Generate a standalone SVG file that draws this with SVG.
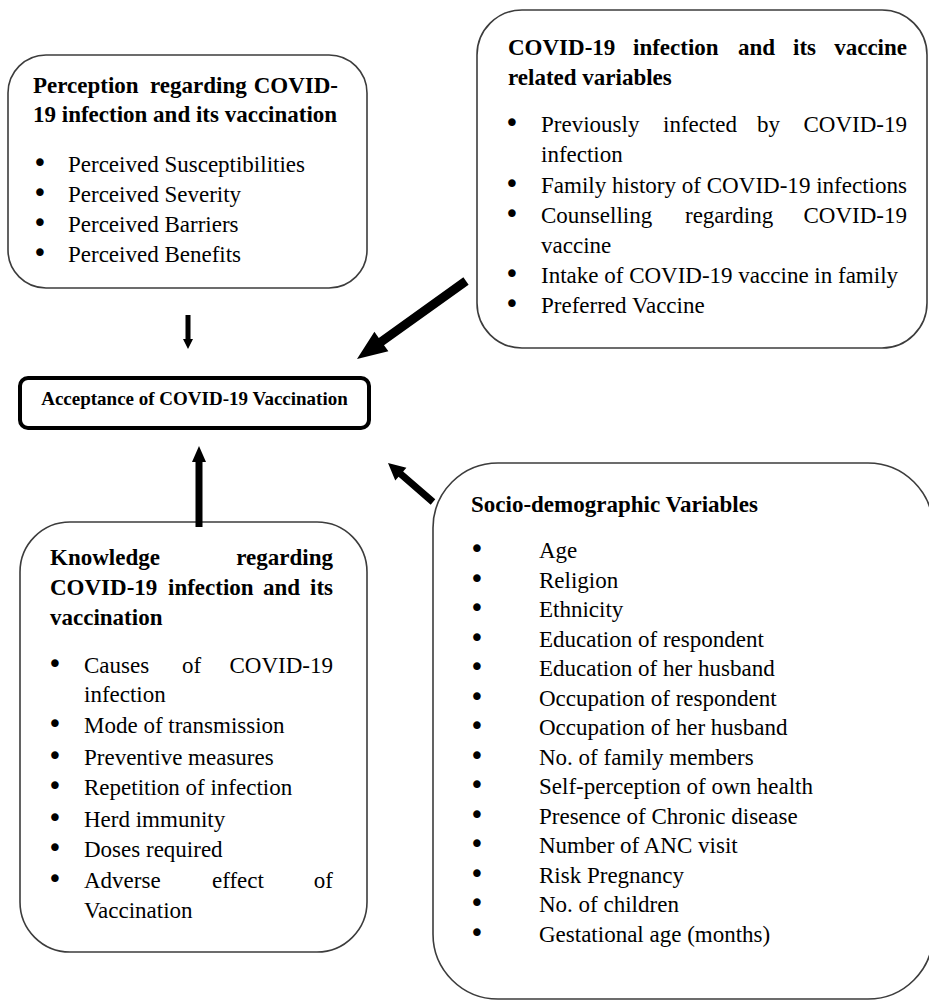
<svg xmlns="http://www.w3.org/2000/svg" width="929" height="1002" viewBox="0 0 929 1002">
<style>
.box{fill:#fff;stroke:#3c3c3c;stroke-width:1.6}
.main{fill:#fff;stroke:#000;stroke-width:4}
text{font-family:"Liberation Serif","Times New Roman",serif;font-size:23px;fill:#000}
.b{font-weight:bold}
.e{text-anchor:end}
.m{text-anchor:middle;font-family:"DejaVu Sans",sans-serif;font-size:26px}
.acc{font-size:19px;font-weight:bold;text-anchor:middle}
.arrow{fill:#000}
</style>
<rect width="929" height="1002" fill="#fff"/>

<g id="perception">
<rect class="box" x="8" y="55" width="359" height="233" rx="38"/>
<text class="b" x="33" y="93">Perception</text>
<text class="b" x="150" y="93">regarding</text>
<text class="b e" x="338" y="93">COVID-</text>
<text class="b" x="33" y="122">19 infection and its vaccination</text>
<text class="m" x="40" y="172">•</text><text x="68" y="172">Perceived Susceptibilities</text>
<text class="m" x="40" y="202">•</text><text x="68" y="202">Perceived Severity</text>
<text class="m" x="40" y="232">•</text><text x="68" y="232">Perceived Barriers</text>
<text class="m" x="40" y="262">•</text><text x="68" y="262">Perceived Benefits</text>
</g>

<g id="covid-vars">
<rect class="box" x="477" y="10" width="450" height="338" rx="45"/>
<text class="b" x="508" y="55">COVID-19</text>
<text class="b" x="633" y="55">infection</text>
<text class="b" x="738" y="55">and</text>
<text class="b" x="793" y="55">its</text>
<text class="b e" x="907" y="55">vaccine</text>
<text class="b" x="508" y="85">related variables</text>
<text class="m" x="512" y="132">•</text>
<text x="541" y="132">Previously</text>
<text x="663" y="132">infected</text>
<text x="757" y="132">by</text>
<text class="e" x="907" y="132">COVID-19</text>
<text x="541" y="162">infection</text>
<text class="m" x="512" y="193">•</text><text x="541" y="193" textLength="366" lengthAdjust="spacingAndGlyphs">Family history of COVID-19 infections</text>
<text class="m" x="512" y="223">•</text>
<text x="541" y="223">Counselling</text>
<text x="685" y="223">regarding</text>
<text class="e" x="907" y="223">COVID-19</text>
<text x="541" y="253">vaccine</text>
<text class="m" x="512" y="283">•</text><text x="541" y="283">Intake of COVID-19 vaccine in family</text>
<text class="m" x="512" y="313">•</text><text x="541" y="313">Preferred Vaccine</text>
</g>

<g id="acceptance">
<rect class="main" x="20" y="378" width="349" height="50" rx="8"/>
<text class="acc" x="194.5" y="405">Acceptance of COVID-19 Vaccination</text>
</g>

<g id="knowledge">
<rect class="box" x="20" y="522" width="347" height="430" rx="50"/>
<text class="b" x="50" y="565">Knowledge</text>
<text class="b e" x="333" y="565">regarding</text>
<text class="b" x="50" y="595">COVID-19</text>
<text class="b" x="168" y="595">infection</text>
<text class="b" x="263" y="595">and</text>
<text class="b e" x="333" y="595">its</text>
<text class="b" x="50" y="625">vaccination</text>
<text class="m" x="55" y="673">•</text>
<text x="84" y="673">Causes</text>
<text x="182" y="673">of</text>
<text class="e" x="333" y="673">COVID-19</text>
<text x="84" y="702">infection</text>
<text class="m" x="55" y="733">•</text><text x="84" y="733">Mode of transmission</text>
<text class="m" x="55" y="765">•</text><text x="84" y="765">Preventive measures</text>
<text class="m" x="55" y="795">•</text><text x="84" y="795">Repetition of infection</text>
<text class="m" x="55" y="827">•</text><text x="84" y="827">Herd immunity</text>
<text class="m" x="55" y="857">•</text><text x="84" y="857">Doses required</text>
<text class="m" x="55" y="888">•</text>
<text x="84" y="888">Adverse</text>
<text x="212" y="888">effect</text>
<text class="e" x="333" y="888">of</text>
<text x="84" y="918">Vaccination</text>
</g>

<g id="socio">
<rect class="box" x="433" y="463" width="500" height="536" rx="65"/>
<text class="b" x="471" y="512">Socio-demographic Variables</text>
<text class="m" x="477" y="558">•</text><text x="539" y="558">Age</text>
<text class="m" x="477" y="587.5">•</text><text x="539" y="587.5">Religion</text>
<text class="m" x="477" y="617">•</text><text x="539" y="617">Ethnicity</text>
<text class="m" x="477" y="646.5">•</text><text x="539" y="646.5">Education of respondent</text>
<text class="m" x="477" y="676">•</text><text x="539" y="676">Education of her husband</text>
<text class="m" x="477" y="705.5">•</text><text x="539" y="705.5">Occupation of respondent</text>
<text class="m" x="477" y="735">•</text><text x="539" y="735">Occupation of her husband</text>
<text class="m" x="477" y="764.5">•</text><text x="539" y="764.5">No. of family members</text>
<text class="m" x="477" y="794">•</text><text x="539" y="794">Self-perception of own health</text>
<text class="m" x="477" y="823.5">•</text><text x="539" y="823.5">Presence of Chronic disease</text>
<text class="m" x="477" y="853">•</text><text x="539" y="853">Number of ANC visit</text>
<text class="m" x="477" y="882.5">•</text><text x="539" y="882.5">Risk Pregnancy</text>
<text class="m" x="477" y="912">•</text><text x="539" y="912">No. of children</text>
<text class="m" x="477" y="941.5">•</text><text x="539" y="941.5">Gestational age (months)</text>
</g>

<g id="connectors">
<polygon class="arrow" points="185.5,315 185.5,339 183,339 188,349 193,339 190.5,339 190.5,315"/>
<polygon class="arrow" points="463.38,277.34 378.78,337.88 374.42,331.78 357,359 388.38,351.30 384.02,345.20 468.62,284.66"/>
<polygon class="arrow" points="435.29,499.36 403.14,471.49 406.42,467.71 388,463 395.28,480.55 398.56,476.77 430.71,504.65"/>
<polygon class="arrow" points="202.5,527 202.5,462 206,462 199,446 192,462 195.5,462 195.5,527"/>
</g>
</svg>
